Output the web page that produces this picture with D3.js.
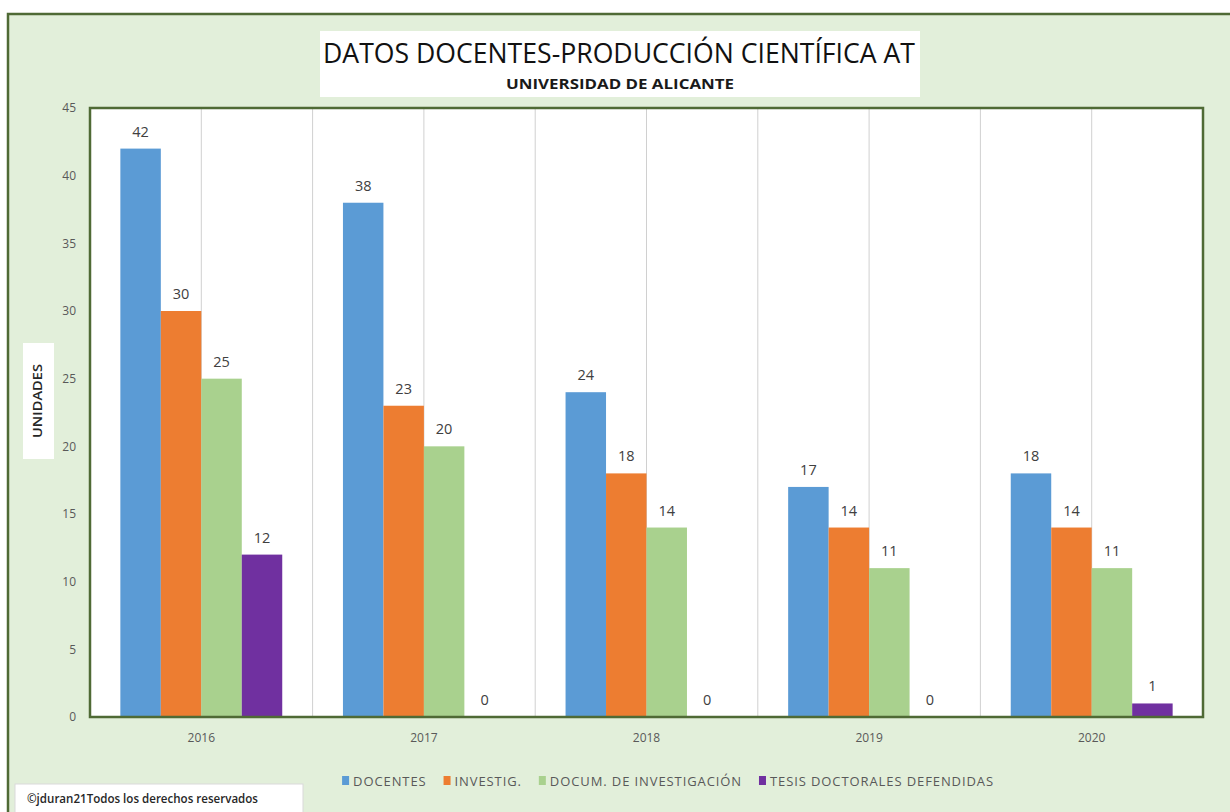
<!DOCTYPE html>
<html>
<head>
<meta charset="utf-8">
<script src="https://cdn.jsdelivr.net/npm/d3@7"></script>
<style>
  body { margin: 0; background: #ffffff; }
  svg { display: block; font-family: "Open Sans", "DejaVu Sans", sans-serif; }
</style>
</head>
<body>
<div id="chart"></div>
<script>
var width = 1230,
    height = 812;

// data
var years = ["2016", "2017", "2018", "2019", "2020"];
var seriesNames = ["DOCENTES", "INVESTIG.", "DOCUM. DE INVESTIGACIÓN", "TESIS DOCTORALES DEFENDIDAS"];
var docentes = [42, 38, 24, 17, 18];
var investig = [30, 23, 18, 14, 14];
var documInv = [25, 20, 14, 11, 11];
var tesis = [12, 0, 0, 0, 1];
var yTicks = [0, 5, 10, 15, 20, 25, 30, 35, 40, 45];
var colors = ["#5b9bd5", "#ed7d31", "#a9d18e", "#7030a0"];

var allSeries = [docentes, investig, documInv, tesis];

var plot = {left: 90, top: 108, right: 1203, bottom: 717};

var svg = d3.select("#chart").append("svg")
    .attr("width", width)
    .attr("height", height);

// chart background + frame
svg.append("rect")
    .attr("x", 8).attr("y", 14)
    .attr("width", width + 10).attr("height", height)
    .style("fill", "#e2efda")
    .style("stroke", "#4f6a35")
    .style("stroke-width", 2.5);

// title box
svg.append("rect")
    .attr("x", 320).attr("y", 31)
    .attr("width", 600).attr("height", 66)
    .style("fill", "#ffffff");

svg.append("text")
    .attr("x", 619).attr("y", 63)
    .attr("text-anchor", "middle")
    .attr("textLength", 592)
    .attr("lengthAdjust", "spacingAndGlyphs")
    .style("font-size", "27px")
    .style("font-weight", "500")
    .style("fill", "#111111")
    .text("DATOS DOCENTES-PRODUCCIÓN CIENTÍFICA AT");

svg.append("text")
    .attr("x", 620).attr("y", 89)
    .attr("text-anchor", "middle")
    .attr("textLength", 228)
    .attr("lengthAdjust", "spacingAndGlyphs")
    .style("font-size", "14px")
    .style("font-weight", "bold")
    .style("fill", "#1a1a1a")
    .text("UNIVERSIDAD DE ALICANTE");

// scales
var x = d3.scaleBand()
    .domain(years)
    .range([plot.left, plot.right])
    .padding(0);

var xs = d3.scaleBand()
    .domain(d3.range(seriesNames.length))
    .range([0, x.bandwidth()])
    .paddingInner(0)
    .paddingOuter(0.75);

var y = d3.scaleLinear()
    .domain([0, 45])
    .range([plot.bottom, plot.top]);

// plot area
svg.append("rect")
    .attr("x", plot.left).attr("y", plot.top)
    .attr("width", plot.right - plot.left)
    .attr("height", plot.bottom - plot.top)
    .style("fill", "#ffffff");

// vertical gridlines at category edges and centres
var gridX = [];
years.forEach(function(d, i) {
  if (i > 0) gridX.push(x(d));
  gridX.push(x(d) + x.bandwidth() / 2);
});

svg.append("g").selectAll("line")
    .data(gridX)
  .enter().append("line")
    .attr("x1", function(d) { return d; })
    .attr("x2", function(d) { return d; })
    .attr("y1", plot.top)
    .attr("y2", plot.bottom)
    .style("stroke", "#d0d0d0")
    .style("stroke-width", 1);

// bars
var groups = svg.append("g").selectAll("g")
    .data(allSeries)
  .enter().append("g")
    .style("fill", function(d, i) { return colors[i]; });

groups.each(function(vals, si) {
  var g = d3.select(this);
  g.selectAll("rect")
      .data(vals)
    .enter().append("rect")
      .attr("x", function(d, i) { return x(years[i]) + xs(si); })
      .attr("y", function(d) { return y(d); })
      .attr("width", xs.bandwidth())
      .attr("height", function(d) { return y(0) - y(d); });

  g.selectAll("text")
      .data(vals)
    .enter().append("text")
      .attr("x", function(d, i) { return x(years[i]) + xs(si) + xs.bandwidth() / 2; })
      .attr("y", function(d) { return y(d) - 12; })
      .attr("text-anchor", "middle")
      .style("font-size", "14.5px")
      .style("fill", "#404040")
      .text(function(d) { return d; });
});

// plot frame
svg.append("rect")
    .attr("x", plot.left).attr("y", plot.top)
    .attr("width", plot.right - plot.left)
    .attr("height", plot.bottom - plot.top)
    .style("fill", "none")
    .style("stroke", "#4f6a35")
    .style("stroke-width", 2.5);

// axes
var yAxis = d3.axisLeft(y)
    .tickValues(yTicks)
    .tickSize(0)
    .tickPadding(14);

svg.append("g")
    .attr("transform", "translate(" + plot.left + ",0)")
    .call(yAxis)
    .call(function(g) { g.select(".domain").remove(); })
    .selectAll("text")
    .style("font-family", "'Open Sans', sans-serif")
    .style("font-size", "12px")
    .style("fill", "#595959");

var xAxis = d3.axisBottom(x)
    .tickSize(0)
    .tickPadding(16);

svg.append("g")
    .attr("transform", "translate(0," + plot.bottom + ")")
    .call(xAxis)
    .call(function(g) { g.select(".domain").remove(); })
    .selectAll("text")
    .style("font-family", "'Open Sans', sans-serif")
    .style("font-size", "12px")
    .style("fill", "#595959");

// y axis title
svg.append("rect")
    .attr("x", 23).attr("y", 343)
    .attr("width", 31).attr("height", 116)
    .style("fill", "#ffffff");

svg.append("text")
    .attr("transform", "translate(42,401) rotate(-90)")
    .attr("text-anchor", "middle")
    .attr("textLength", 74)
    .attr("lengthAdjust", "spacingAndGlyphs")
    .style("font-size", "12px")
    .style("font-weight", "600")
    .style("fill", "#262626")
    .text("UNIDADES");

// legend, laid out one after another and centred
var legend = svg.append("g");
var items = legend.selectAll("g")
    .data(seriesNames)
  .enter().append("g");

items.append("rect")
    .attr("x", 0).attr("y", -5)
    .attr("width", 7).attr("height", 9)
    .style("fill", function(d, i) { return colors[i]; });

items.append("text")
    .attr("x", 11).attr("y", 5)
    .style("font-size", "13px")
    .style("letter-spacing", "0.9px")
    .style("fill", "#595959")
    .text(function(d) { return d; });

var pos = 0;
items.each(function() {
  var w = this.getBBox().width;
  d3.select(this).attr("transform", "translate(" + pos + ",781)");
  pos += w + 17;
});
pos -= 17;
legend.attr("transform", "translate(" + (668 - pos / 2) + ",0)");

// copyright
svg.append("rect")
    .attr("x", 15).attr("y", 784)
    .attr("width", 288).attr("height", 32)
    .style("fill", "#ffffff")
    .style("stroke", "#d9d9d9");

svg.append("text")
    .attr("x", 27).attr("y", 803)
    .attr("textLength", 231)
    .attr("lengthAdjust", "spacingAndGlyphs")
    .style("font-size", "12px")
    .style("font-weight", "600")
    .style("fill", "#262626")
    .text("©jduran21Todos los derechos reservados");
</script>
</body>
</html>
